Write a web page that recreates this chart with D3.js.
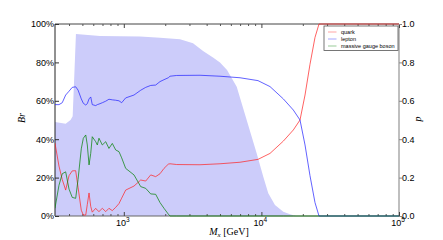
<!DOCTYPE html>
<html>
<head>
<meta charset="utf-8">
<script src="https://cdn.jsdelivr.net/npm/d3@7"></script>
<style>
body { margin: 0; background: #fff; }
svg { display: block; }
.tick text { font-family: "Liberation Sans", Arial, sans-serif; font-size: 9px; fill: #000; }
</style>
</head>
<body>
<svg id="chart" width="443" height="240"></svg>
<script>
"use strict";

// Mass grid (GeV) shared by the three branching ratios
var masses = [316, 338, 357, 378, 400, 422, 447, 465, 491, 508, 529, 543, 559, 575, 590, 625, 642, 660,
    698, 739, 780, 825, 873, 923, 965, 1032, 1186, 1327, 1443, 1569, 1705, 1833, 1960, 2106, 2167, 2424,
    3580, 5002, 6991, 9447, 11550, 14430, 17060, 19080, 20750, 22550, 24520, 26220, 100000];

// Branching ratios in percent
var quark = [38, 26, 19, 13.5, 21, 23.5, 23.6, 15, 3, 0.5, 0.5, 6, 12, 5, 2, 4, 3, 2.3,
    4, 2.3, 4, 2.8, 4.5, 6.5, 9.3, 13.5, 15.6, 18.75, 18.2, 21.4, 20.5, 22, 24.8, 27, 27.2, 26.8,
    26.7, 27.2, 28, 29.5, 32.6, 39, 44.8, 50, 63, 79, 93, 100, 100];
var lepton = [58, 58, 59, 63, 65, 67, 67.3, 65.6, 61, 58.7, 57.8, 58.5, 61, 62, 58, 57.5, 58, 58.3,
    59, 59.8, 60.8, 60.5, 60.3, 60, 59, 61.5, 63, 65.5, 67, 68, 68.2, 70, 71, 72, 72.8, 73.2,
    73.3, 72.8, 72, 70.5, 67.4, 61, 55.2, 50, 37, 21, 7, 0, 0];
var gauge = [4, 16, 22, 23, 14, 9.7, 9.2, 19, 35, 40.5, 42.2, 37, 26.6, 32.6, 41.3, 38.7, 37, 40.5,
    37, 38.7, 35.2, 37.8, 34.4, 33.5, 30.3, 24.8, 21.4, 15.3, 14.4, 11.5, 11.3, 7, 4, 1, 0, 0,
    0, 0, 0, 0, 0, 0, 0, 0, 0, 0, 0, 0, 0];

// p (right axis), shaded
var pMass = [316, 378, 410, 425, 449, 671, 1312, 1833, 2562, 3184, 3767, 4449, 5002, 5626, 6616, 7816,
    9247, 10320, 11220, 12550, 14430, 16140, 17850, 100000];
var pValue = [0.49, 0.48, 0.50, 0.52, 0.948, 0.938, 0.935, 0.929, 0.92, 0.90, 0.86, 0.825, 0.80, 0.76, 0.673, 0.50,
    0.326, 0.205, 0.118, 0.057, 0.022, 0.009, 0, 0];

var brTicks = [0, 20, 40, 60, 80, 100];
var pTicks = [0, 0.2, 0.4, 0.6, 0.8, 1.0];
var xMajor = [1e3, 1e4, 1e5];
var xExp = ["3", "4", "5"];

var series = [
    { name: "quark", values: quark, color: "#ff2020" },
    { name: "lepton", values: lepton, color: "#2020ff" },
    { name: "massive gauge boson", values: gauge, color: "#008000" }
];

var plotL = 55, plotR = 399, plotT = 24, plotB = 216;
var svg = d3.select("#chart");

var x = d3.scaleLog().domain([Math.pow(10, 2.5), 1e5]).range([plotL, plotR]);
var yBr = d3.scaleLinear().domain([0, 100]).range([plotB, plotT]);
var yP = d3.scaleLinear().domain([0, 1]).range([plotB, plotT]);

// minor decade ticks
var xMinor = [];
[100, 1000, 10000].forEach(function(d){
    for (var k = 2; k <= 9; k++) {
        var v = d * k;
        if (v > x.domain()[0] && v < 1e5) xMinor.push(v);
    }
});

svg.append("clipPath").attr("id", "plotclip")
    .append("rect").attr("x", plotL).attr("y", plotT - 1).attr("width", plotR - plotL).attr("height", plotB - plotT + 2);

// Shaded p region
svg.append("path")
    .datum(d3.range(pMass.length))
    .attr("clip-path", "url(#plotclip)")
    .attr("fill", "#ccccfa")
    .attr("d", d3.area()
        .x(function(i){ return x(pMass[i]); })
        .y0(plotB)
        .y1(function(i){ return yP(pValue[i]); }));

// Frame
svg.append("line").attr("x1", plotL).attr("x2", plotR).attr("y1", plotT).attr("y2", plotT)
    .attr("stroke", "#444").attr("stroke-width", 1);
svg.append("line").attr("x1", plotL).attr("x2", plotL).attr("y1", plotT).attr("y2", plotB)
    .attr("stroke", "#222").attr("stroke-width", 1);
svg.append("line").attr("x1", plotR).attr("x2", plotR).attr("y1", plotT).attr("y2", plotB)
    .attr("stroke", "#aaa").attr("stroke-width", 1.5);
svg.append("line").attr("x1", plotL).attr("x2", plotR).attr("y1", plotB).attr("y2", plotB)
    .attr("stroke", "#666").attr("stroke-width", 1);

// Bottom axis: major + minor ticks pointing inward
var gx = svg.append("g").attr("transform", "translate(0," + plotB + ")")
    .call(d3.axisBottom(x).tickValues(xMajor).tickSize(-4).tickFormat(""));
gx.select(".domain").remove();
gx.selectAll(".tick line").attr("stroke", "#444");
svg.append("g").attr("transform", "translate(0," + plotB + ")")
    .call(d3.axisBottom(x).tickValues(xMinor).tickSize(-2).tickFormat(""))
    .call(function(g){ g.select(".domain").remove(); g.selectAll(".tick line").attr("stroke", "#555"); });
// Top ticks
svg.append("g").attr("transform", "translate(0," + plotT + ")")
    .call(d3.axisTop(x).tickValues(xMajor).tickSize(-4).tickFormat(""))
    .call(function(g){ g.select(".domain").remove(); g.selectAll(".tick line").attr("stroke", "#444"); });
svg.append("g").attr("transform", "translate(0," + plotT + ")")
    .call(d3.axisTop(x).tickValues(xMinor).tickSize(-2).tickFormat(""))
    .call(function(g){ g.select(".domain").remove(); g.selectAll(".tick line").attr("stroke", "#555"); });

// Power-of-ten labels
var xl = svg.append("g").selectAll("text").data(xMajor).enter().append("text")
    .attr("x", function(d){ return x(d) - 1; })
    .attr("y", 225.5)
    .attr("text-anchor", "middle")
    .style("font-family", "Liberation Sans, Arial, sans-serif")
    .style("font-size", "9px");
xl.append("tspan").text("10");
xl.append("tspan").attr("dy", -4).style("font-size", "6.5px").text(function(d, i){ return xExp[i]; });

// Left axis (Br)
var gl = svg.append("g").attr("transform", "translate(" + plotL + ",0)")
    .call(d3.axisLeft(yBr).tickValues(brTicks).tickSize(-4).tickPadding(1)
        .tickFormat(function(d){ return d + "%"; }));
gl.select(".domain").remove();
gl.selectAll(".tick line").attr("stroke", "#333");

// Right axis (p)
var gr = svg.append("g").attr("transform", "translate(" + plotR + ",0)")
    .call(d3.axisRight(yP).tickValues(pTicks).tickSize(3).tickPadding(0)
        .tickFormat(d3.format(".1f")));
gr.select(".domain").remove();
gr.selectAll(".tick line").attr("stroke", "#888");

// Branching ratio lines
var line = d3.line()
    .x(function(d){ return x(d[0]); })
    .y(function(d){ return yBr(d[1]); });
series.forEach(function(s){
    svg.append("path")
        .datum(masses.map(function(m, i){ return [m, s.values[i]]; }))
        .attr("clip-path", "url(#plotclip)")
        .attr("fill", "none")
        .attr("stroke", s.color)
        .attr("stroke-opacity", 0.7)
        .attr("stroke-width", 1)
        .attr("d", line);
});

// Axis labels
var serif = "Liberation Serif, Times New Roman, serif";
var xt = svg.append("text").attr("x", 229).attr("y", 235)
    .attr("text-anchor", "middle")
    .style("font-family", serif).style("font-size", "10px");
xt.append("tspan").style("font-style", "italic").text("M");
xt.append("tspan").attr("dy", 2).style("font-size", "7px").style("font-style", "italic").text("x");
xt.append("tspan").attr("dy", -2).text(" [GeV]");

svg.append("text").attr("transform", "translate(25,118) rotate(-90)")
    .attr("text-anchor", "middle")
    .style("font-family", serif).style("font-size", "10px").style("font-style", "italic")
    .text("Br");
svg.append("text").attr("transform", "translate(421,119) rotate(-90)")
    .attr("text-anchor", "middle")
    .style("font-family", serif).style("font-size", "10px").style("font-style", "italic")
    .text("p");

// Legend
var lg = svg.append("g").attr("transform", "translate(324,26)");
lg.append("rect").attr("width", 74).attr("height", 24.5)
    .attr("fill", "#fff").attr("stroke", "#555").attr("stroke-width", 0.8);
series.forEach(function(s, i){
    var yy = 6 + i * 7;
    lg.append("line").attr("x1", 4).attr("x2", 12.5).attr("y1", yy).attr("y2", yy)
        .attr("stroke", s.color).attr("stroke-opacity", 0.4).attr("stroke-width", 1);
    lg.append("text").attr("x", 17).attr("y", yy + 2)
        .style("font-family", "Liberation Sans, Arial, sans-serif").style("font-size", "5.5px")
        .text(s.name);
});
</script>
</body>
</html>
